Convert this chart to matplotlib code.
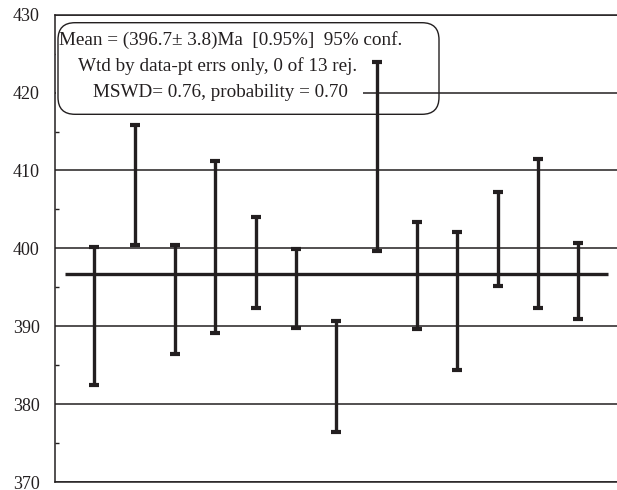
import numpy as np
import matplotlib
matplotlib.use("Agg")
import matplotlib.pyplot as plt
from matplotlib.patches import FancyBboxPatch, Rectangle
from matplotlib.ticker import MultipleLocator

# spot number, upper and lower limits of the 2-sigma error bars (Ma)
spots = np.arange(1, 14)
upper = [400.2, 415.9, 400.4, 411.2, 404.0, 399.9, 390.7, 423.9, 403.4, 402.1, 407.2, 411.5, 400.7]
lower = [382.5, 400.4, 386.4, 389.1, 392.3, 389.8, 376.4, 399.7, 389.6, 384.4, 395.2, 392.4, 390.9]
mean_age = 396.7
yticks = [370, 380, 390, 400, 410, 420, 430]
box_lines = ["Mean = (396.7\u00b1 3.8)Ma  [0.95%]  95% conf.",
             "Wtd by data-pt errs only, 0 of 13 rej.",
             "MSWD= 0.76, probability = 0.70"]

plt.rcParams['font.family'] = ['Liberation Serif', 'DejaVu Serif']
ink = '#231f20'

fig = plt.figure(figsize=(6.17, 4.90), dpi=100)
ax = fig.add_axes([55/617, 8/490, 1 - 55/617, 467.3/490])

upper = np.array(upper)
lower = np.array(lower)
mid = (upper + lower) / 2
half = (upper - lower) / 2
ax.errorbar(spots, mid, yerr=half, fmt='none', ecolor=ink, elinewidth=2.4,
            capsize=3.5, capthick=3, zorder=4)
ax.hlines(mean_age, 0.27, 13.73, color=ink, lw=2.4, zorder=3)

ax.set_xlim(0.025, 13.96)
ax.set_ylim(370, 430)
ax.set_yticks(yticks)
ax.yaxis.set_minor_locator(MultipleLocator(5))
ax.set_xticks([])
ax.grid(axis='y', which='major', color=ink, lw=1.1)
ax.tick_params(axis='y', which='major', length=0, pad=11, labelsize=13, colors=ink)
ax.tick_params(axis='y', which='minor', direction='in', length=3, width=1, color=ink)
ax.spines['right'].set_visible(False)
for s in ['left', 'bottom', 'top']:
    ax.spines[s].set_color(ink)
    ax.spines[s].set_linewidth(1.1)
ax.set_axisbelow(True)

# white area behind the text, hides the 420 gridline
fig.add_artist(Rectangle((0.565, 3.75), 3.06, 0.97, transform=fig.dpi_scale_trans,
                         facecolor='white', edgecolor='none', zorder=5))
fig.add_artist(FancyBboxPatch((0.58, 3.757), 3.81, 0.916,
                              boxstyle="round,pad=0,rounding_size=0.17",
                              transform=fig.dpi_scale_trans, facecolor='none',
                              edgecolor=ink, lw=1.0, zorder=6))
ys = [4.50, 4.24, 3.98]
xs = [2.31, 2.175, 2.20]
for txt, x, y in zip(box_lines, xs, ys):
    fig.text(x, y, txt, transform=fig.dpi_scale_trans, ha='center', va='center',
             fontsize=13.8, color=ink, zorder=7)

fig.savefig('out.png', dpi=100)
